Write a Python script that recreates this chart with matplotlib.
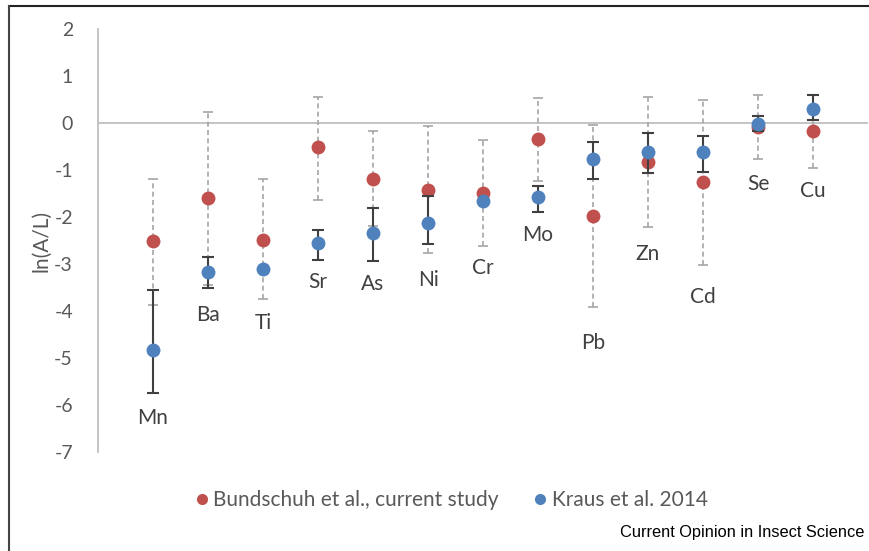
#Metal ln(A/L) ratios, two studies, with error bars

import numpy as np
import matplotlib.pyplot as plt
from matplotlib.lines import Line2D

#Input data
metals = ['Mn','Ba','Ti','Sr','As','Ni','Cr','Mo','Pb','Zn','Cd','Se','Cu']

bund_mean = [-2.51,-1.59,-2.48,-0.52,-1.20,-1.42,-1.48,-0.34,-1.97,-0.84,-1.26,-0.08,-0.18]
bund_high = [-1.20, 0.23,-1.20, 0.56,-0.18,-0.06,-0.36, 0.54,-0.04, 0.55, 0.49, 0.59, 0.60]
bund_low  = [-3.87,-3.45,-3.75,-1.64,-2.20,-2.77,-2.61,-1.23,-3.91,-2.22,-3.02,-0.76,-0.96]

kraus_mean = [-4.83,-3.17,-3.11,-2.55,-2.33,-2.13,-1.67,-1.58,-0.77,-0.62,-0.61,-0.03, 0.30]
kraus_high = [-3.55,-2.86,-3.11,-2.28,-1.80,-1.55,-1.67,-1.34,-0.40,-0.21,-0.28, 0.15, 0.59]
kraus_low  = [-5.74,-3.52,-3.11,-2.92,-2.93,-2.57,-1.67,-1.89,-1.20,-1.06,-1.04,-0.17, 0.06]

label_y = [-6.28,-4.09,-4.26,-3.38,-3.43,-3.34,-3.09,-2.38,-4.68,-2.79,-3.70,-1.30,-1.45]

yticks = [2,1,0,-1,-2,-3,-4,-5,-6,-7]

red = '#C0504D'
blue = '#4F81BD'
txt = '#595959'

x = np.arange(1, len(metals)+1)
bm = np.array(bund_mean); km = np.array(kraus_mean)
bund_err = [bm - np.array(bund_low), np.array(bund_high) - bm]
kraus_err = [km - np.array(kraus_low), np.array(kraus_high) - km]

plt.rcParams['font.family'] = ['Lato', 'DejaVu Sans']
plt.rcParams['axes.unicode_minus'] = False

fig = plt.figure(figsize=(8.7, 5.51), dpi=100)
ax = fig.add_axes([98/870, 1-452/551, (868-98)/870, (452-29)/551])

#Bundschuh series (dashed grey error bars)
eb = ax.errorbar(x, bm, yerr=bund_err, fmt='none', ecolor='#A6A6A6', elinewidth=1.2,
                 capsize=3.5, capthick=1.2, zorder=2)
eb[2][0].set_linestyle((0, (3, 2)))
ax.plot(x, bm, 'o', color=red, markersize=10, markeredgewidth=0, zorder=3,
        label='Bundschuh et al., current study')

#Kraus series (solid dark error bars)
ax.errorbar(x, km, yerr=kraus_err, fmt='none', ecolor='#404040', elinewidth=1.5,
            capsize=4.3, capthick=1.5, zorder=4)
ax.plot(x, km, 'o', color=blue, markersize=10, markeredgewidth=0, zorder=5,
        label='Kraus et al. 2014')

#Element labels
for xi, yi, lab in zip(x, label_y, metals):
    ax.text(xi, yi, lab, ha='center', va='center', fontsize=15, color='#404040')

ax.axhline(0, color='#BFBFBF', linewidth=1.3, zorder=1)
ax.set_xlim(0, 14)
ax.set_ylim(-7, 2)
ax.set_yticks(yticks)
ax.set_xticks([])
ax.tick_params(axis='y', length=0, labelsize=14, labelcolor=txt, pad=18)
for s in ['top','right','bottom']:
    ax.spines[s].set_visible(False)
ax.spines['left'].set_color('#BFBFBF')
ax.spines['left'].set_linewidth(1.3)
ax.set_ylabel('ln(A/L)', fontsize=15, color=txt, labelpad=2)

fig.legend(loc='center', bbox_to_anchor=(0.518, 1-500/551), ncol=2, frameon=False,
           fontsize=15, labelcolor=txt, handlelength=0.8, handletextpad=0.15,
           columnspacing=1.6, markerscale=0.8)

fig.text(864/870, 1-532/551, 'Current Opinion in Insect Science', ha='right', va='center',
         fontsize=11.8, family='Liberation Sans', color='black')

#partial frame lines (top and left)
fig.add_artist(Line2D([9/870, 1], [1-6/551, 1-6/551], color='#222222', linewidth=1.5))
fig.add_artist(Line2D([9/870, 9/870], [0, 1-6/551], color='#444444', linewidth=1.5))

plt.savefig('out.png', dpi=100)
